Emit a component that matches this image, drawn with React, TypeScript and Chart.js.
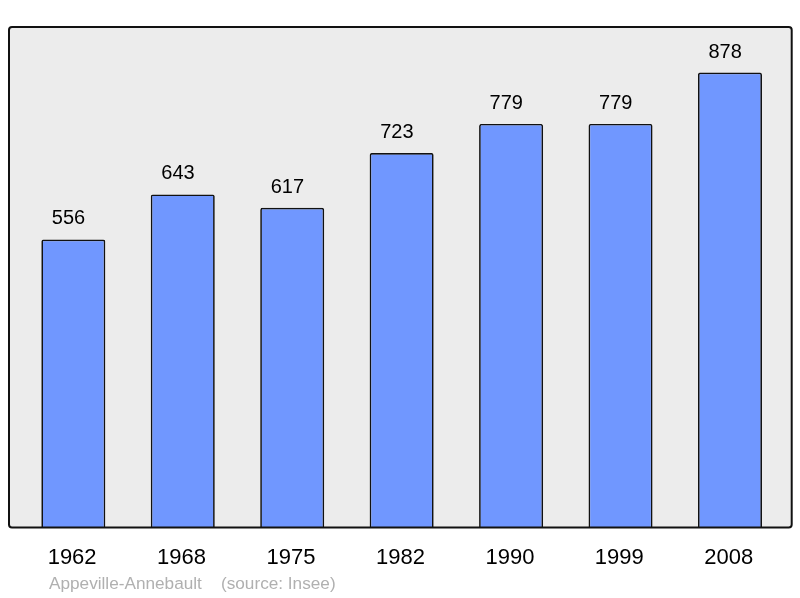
import React, { useEffect, useRef } from "react";
import { Chart, registerables } from "chart.js";

Chart.register(...registerables);

const years = ["1962", "1968", "1975", "1982", "1990", "1999", "2008"];
const population = [556, 643, 617, 723, 779, 779, 878];
const yMax = 966;
const caption = "Appeville-Annebault    (source: Insee)";

const framePlugin = {
  id: "frame",
  beforeDatasetsDraw(chart: any) {
    const { ctx, chartArea } = chart;
    const l = chartArea.left - 9.6;
    const r = chartArea.right + 7;
    const t = chartArea.top;
    const b = chartArea.bottom;
    ctx.save();
    ctx.beginPath();
    ctx.roundRect(l, t, r - l, b - t, 3);
    ctx.fillStyle = "#ececec";
    ctx.fill();
    ctx.restore();
  },
  afterDatasetsDraw(chart: any) {
    const { ctx, chartArea } = chart;
    const l = chartArea.left - 9.6;
    const r = chartArea.right + 7;
    const t = chartArea.top;
    const b = chartArea.bottom;
    ctx.save();
    ctx.beginPath();
    ctx.roundRect(l, t, r - l, b - t, 3);
    ctx.lineWidth = 2;
    ctx.strokeStyle = "#111111";
    ctx.stroke();
    // value labels
    const meta = chart.getDatasetMeta(0);
    ctx.fillStyle = "#000000";
    ctx.font = "20px 'Liberation Sans', Arial, sans-serif";
    ctx.textAlign = "center";
    ctx.textBaseline = "alphabetic";
    meta.data.forEach((bar: any, i: number) => {
      ctx.fillText(String(chart.data.datasets[0].data[i]), bar.x - 4.8, bar.y - 15);
    });
    // caption
    ctx.fillStyle = "#b0b0b0";
    ctx.font = "17.2px 'Liberation Sans', Arial, sans-serif";
    ctx.textAlign = "left";
    ctx.fillText(caption, l + 40, chart.height - 9);
    ctx.restore();
  },
};

export default function App() {
  const ref = useRef<HTMLCanvasElement>(null);
  useEffect(() => {
    if (!ref.current) return;
    const chart = new Chart(ref.current, {
      type: "bar",
      data: {
        labels: years,
        datasets: [
          {
            data: population,
            backgroundColor: "#7097ff",
            borderColor: "#111111",
            borderWidth: 1.7,
            borderRadius: 2,
            borderSkipped: "start",
            barPercentage: 0.585,
            categoryPercentage: 1,
          },
        ],
      },
      options: {
        animation: false,
        responsive: false,
        maintainAspectRatio: false,
        layout: { padding: { left: 18.6, right: 15.3, top: 27, bottom: 0 } },
        plugins: {
          legend: { display: false },
          tooltip: { enabled: false },
        },
        scales: {
          x: {
            grid: { display: false },
            border: { display: false },
            ticks: {
              color: "#000000",
              font: { size: 22, family: "'Liberation Sans', Arial, sans-serif" },
              padding: 9,
              labelOffset: -1.2,
            },
            afterFit(scale: any) {
              scale.height = 70.4;
            },
          },
          y: {
            display: false,
            min: 0,
            max: yMax,
          },
        },
      },
      plugins: [framePlugin],
    });
    return () => chart.destroy();
  }, []);
  return (
    <div style={{ position: "absolute", left: 0, top: 0, width: 800, height: 598 }}>
      <canvas ref={ref} width={800} height={598} />
    </div>
  );
}
